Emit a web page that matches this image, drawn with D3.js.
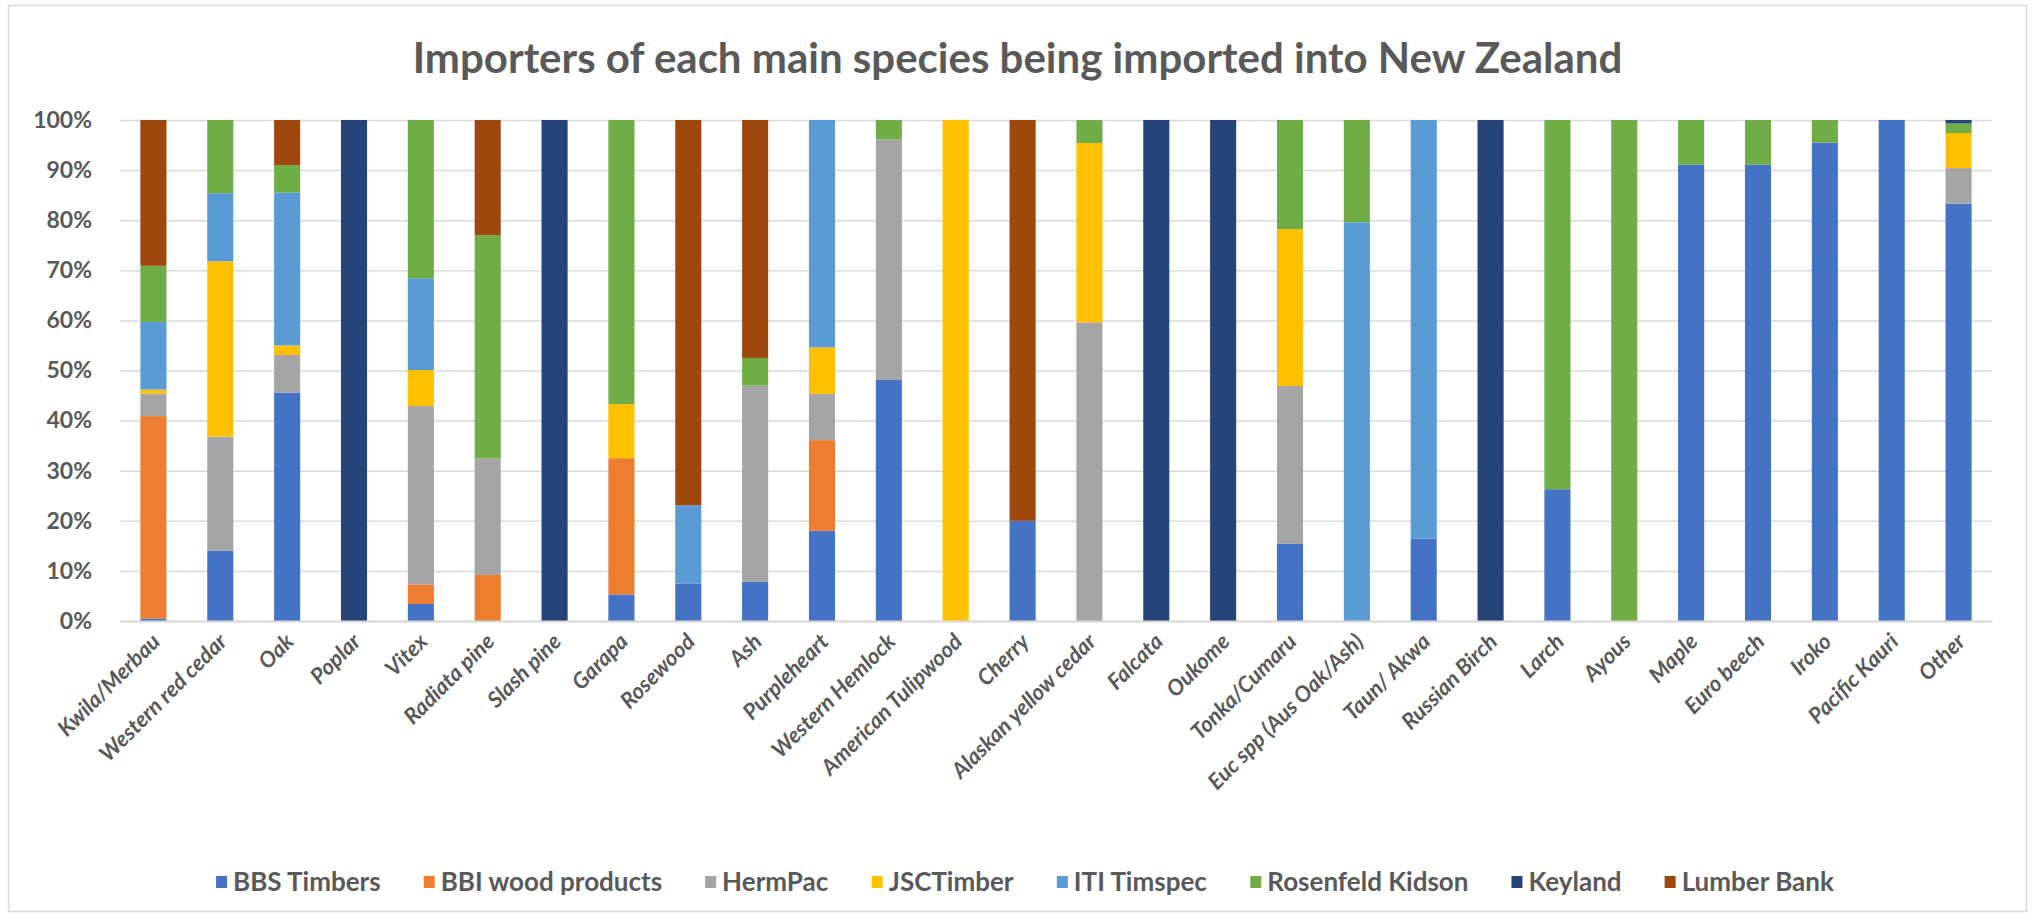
<!DOCTYPE html>
<html>
<head>
<meta charset="utf-8">
<script src="https://cdn.jsdelivr.net/npm/d3@7/dist/d3.min.js"></script>
<style>
  body { margin: 0; background: #fff; }
  text { font-family: Lato, "Open Sans", sans-serif; fill: #595959; }
</style>
</head>
<body>
<svg id="chart" width="2035" height="918"></svg>
<script>
const categories = [
  'Kwila/Merbau', 'Western red cedar', 'Oak', 'Poplar', 'Vitex', 'Radiata pine',
  'Slash pine', 'Garapa', 'Rosewood', 'Ash', 'Purpleheart', 'Western Hemlock',
  'American Tulipwood', 'Cherry', 'Alaskan yellow cedar', 'Falcata', 'Oukome',
  'Tonka/Cumaru', 'Euc spp (Aus Oak/Ash)', 'Taun/ Akwa', 'Russian Birch', 'Larch',
  'Ayous', 'Maple', 'Euro beech', 'Iroko', 'Pacific Kauri', 'Other'
];
const importers = ['BBS Timbers', 'BBI wood products', 'HermPac', 'JSCTimber',
  'ITI Timspec', 'Rosenfeld Kidson', 'Keyland', 'Lumber Bank'];
const importerColors = ['#4472c4', '#ed7d31', '#a5a5a5', '#ffc000',
  '#5b9bd5', '#70ad47', '#264478', '#9e480e'];

// share (%) of each species by importer, same order as categories
const bbsTimbers      = [0.5, 14, 45.6, 0, 3.4, 0, 0, 5.3, 7.5, 7.8, 18, 48.1, 0, 20, 0, 0, 0, 15.4, 0, 16.4, 0, 26.3, 0, 91.1, 91.1, 95.5, 100, 83.3];
const bbiWood         = [40.4, 0, 0, 0, 3.9, 9.2, 0, 27.2, 0, 0, 18.1, 0, 0, 0, 0, 0, 0, 0, 0, 0, 0, 0, 0, 0, 0, 0, 0, 0];
const hermPac         = [4.5, 22.8, 7.5, 0, 35.6, 23.3, 0, 0, 0, 39.2, 9.2, 48, 0, 0, 59.6, 0, 0, 31.5, 0, 0, 0, 0, 0, 0, 0, 0, 0, 7.1];
const jscTimber       = [0.8, 35, 1.9, 0, 7.2, 0, 0, 10.8, 0, 0, 9.3, 0, 100, 0, 35.8, 0, 0, 31.3, 0, 0, 0, 0, 0, 0, 0, 0, 0, 7.0];
const itiTimspec      = [13.5, 13.6, 30.5, 0, 18.3, 0, 0, 0, 15.6, 0, 45.4, 0, 0, 0, 0, 0, 0, 0, 79.6, 83.6, 0, 0, 0, 0, 0, 0, 0, 0];
const rosenfeldKidson = [11.2, 14.6, 5.5, 0, 31.6, 44.5, 0, 56.7, 0, 5.5, 0, 3.9, 0, 0, 4.6, 0, 0, 21.8, 20.4, 0, 0, 73.7, 100, 8.9, 8.9, 4.5, 0, 1.9];
const keyland         = [0, 0, 0, 100, 0, 0, 100, 0, 0, 0, 0, 0, 0, 0, 0, 100, 100, 0, 0, 0, 100, 0, 0, 0, 0, 0, 0, 0.7];
const lumberBank      = [29.1, 0, 9, 0, 0, 23, 0, 0, 76.9, 47.5, 0, 0, 0, 80, 0, 0, 0, 0, 0, 0, 0, 0, 0, 0, 0, 0, 0, 0];

const yTicks = [0, 10, 20, 30, 40, 50, 60, 70, 80, 90, 100];

const W = 2035, H = 918;
const margin = { top: 120, right: 43, bottom: 297, left: 120 };
const width = W - margin.left - margin.right;
const height = H - margin.top - margin.bottom;

const seriesValues = [bbsTimbers, bbiWood, hermPac, jscTimber, itiTimspec, rosenfeldKidson, keyland, lumberBank];
const rows = categories.map((c, i) => {
  const row = { category: c };
  importers.forEach((name, k) => { row[name] = seriesValues[k][i]; });
  return row;
});

const svg = d3.select('#chart');
svg.append('rect').attr('width', W).attr('height', H).attr('fill', '#fff');
svg.append('rect')
  .attr('x', 8.5).attr('y', 5.5)
  .attr('width', W - 17).attr('height', H - 12)
  .attr('fill', 'none').attr('stroke', '#d9d9d9').attr('stroke-width', 1.5);

// title
svg.append('text')
  .attr('x', W / 2).attr('y', 73)
  .attr('text-anchor', 'middle')
  .style('font-size', '42px').style('font-weight', 700)
  .text('Importers of each main species being imported into New Zealand');

const g = svg.append('g').attr('transform', `translate(${margin.left},${margin.top})`);

const x = d3.scaleBand().domain(categories).range([0, width]).paddingInner(0.61).paddingOuter(0.305);
const y = d3.scaleLinear().domain([0, 100]).range([height, 0]);
const color = d3.scaleOrdinal().domain(importers).range(importerColors);

// gridlines
g.append('g')
  .call(d3.axisLeft(y).tickValues(yTicks).tickSize(-width).tickFormat(''))
  .call(s => s.select('.domain').remove())
  .call(s => s.selectAll('.tick line').attr('stroke', '#d9d9d9').attr('stroke-width', 1.5));

// y labels
g.append('g')
  .call(d3.axisLeft(y).tickValues(yTicks).tickSize(0).tickPadding(28).tickFormat(d => d + '%'))
  .call(s => s.select('.domain').remove())
  .call(s => s.selectAll('text').style('font-size', '23px').style('font-weight', 700).attr('fill', '#595959'));

// stacked bars
const stacked = d3.stack().keys(importers)(rows);
g.append('g').selectAll('g')
  .data(stacked)
  .join('g')
  .attr('fill', d => color(d.key))
  .selectAll('rect')
  .data(d => d)
  .join('rect')
  .attr('x', d => x(d.data.category))
  .attr('y', d => y(d[1]))
  .attr('width', x.bandwidth())
  .attr('height', d => y(d[0]) - y(d[1]));

// x axis
const xAxis = g.append('g')
  .attr('transform', `translate(0,${height})`)
  .call(d3.axisBottom(x).tickSize(0).tickPadding(0));
xAxis.select('.domain').attr('stroke', '#d9d9d9').attr('stroke-width', 2);
xAxis.selectAll('text')
  .style('font-size', '22px').style('font-weight', 700).style('font-style', 'italic')
  .attr('fill', '#595959')
  .attr('text-anchor', 'end')
  .attr('dy', 0)
  .attr('transform', 'translate(8,22) rotate(-45)');

// legend
const legend = svg.append('g');
const items = legend.selectAll('g').data(importers).join('g');
items.append('rect').attr('width', 11).attr('height', 12).attr('y', -6).attr('fill', d => color(d));
items.append('text').attr('x', 17).attr('dy', '0.35em')
  .style('font-size', '26px').style('font-weight', 700)
  .text(d => d);
let cx = 0;
items.each(function () {
  const w = this.getBBox().width;
  d3.select(this).attr('transform', `translate(${cx},882)`);
  cx += w + 43;
});
const legendWidth = cx - 43;
legend.attr('transform', `translate(${1025 - legendWidth / 2},0)`);
</script>
</body>
</html>
